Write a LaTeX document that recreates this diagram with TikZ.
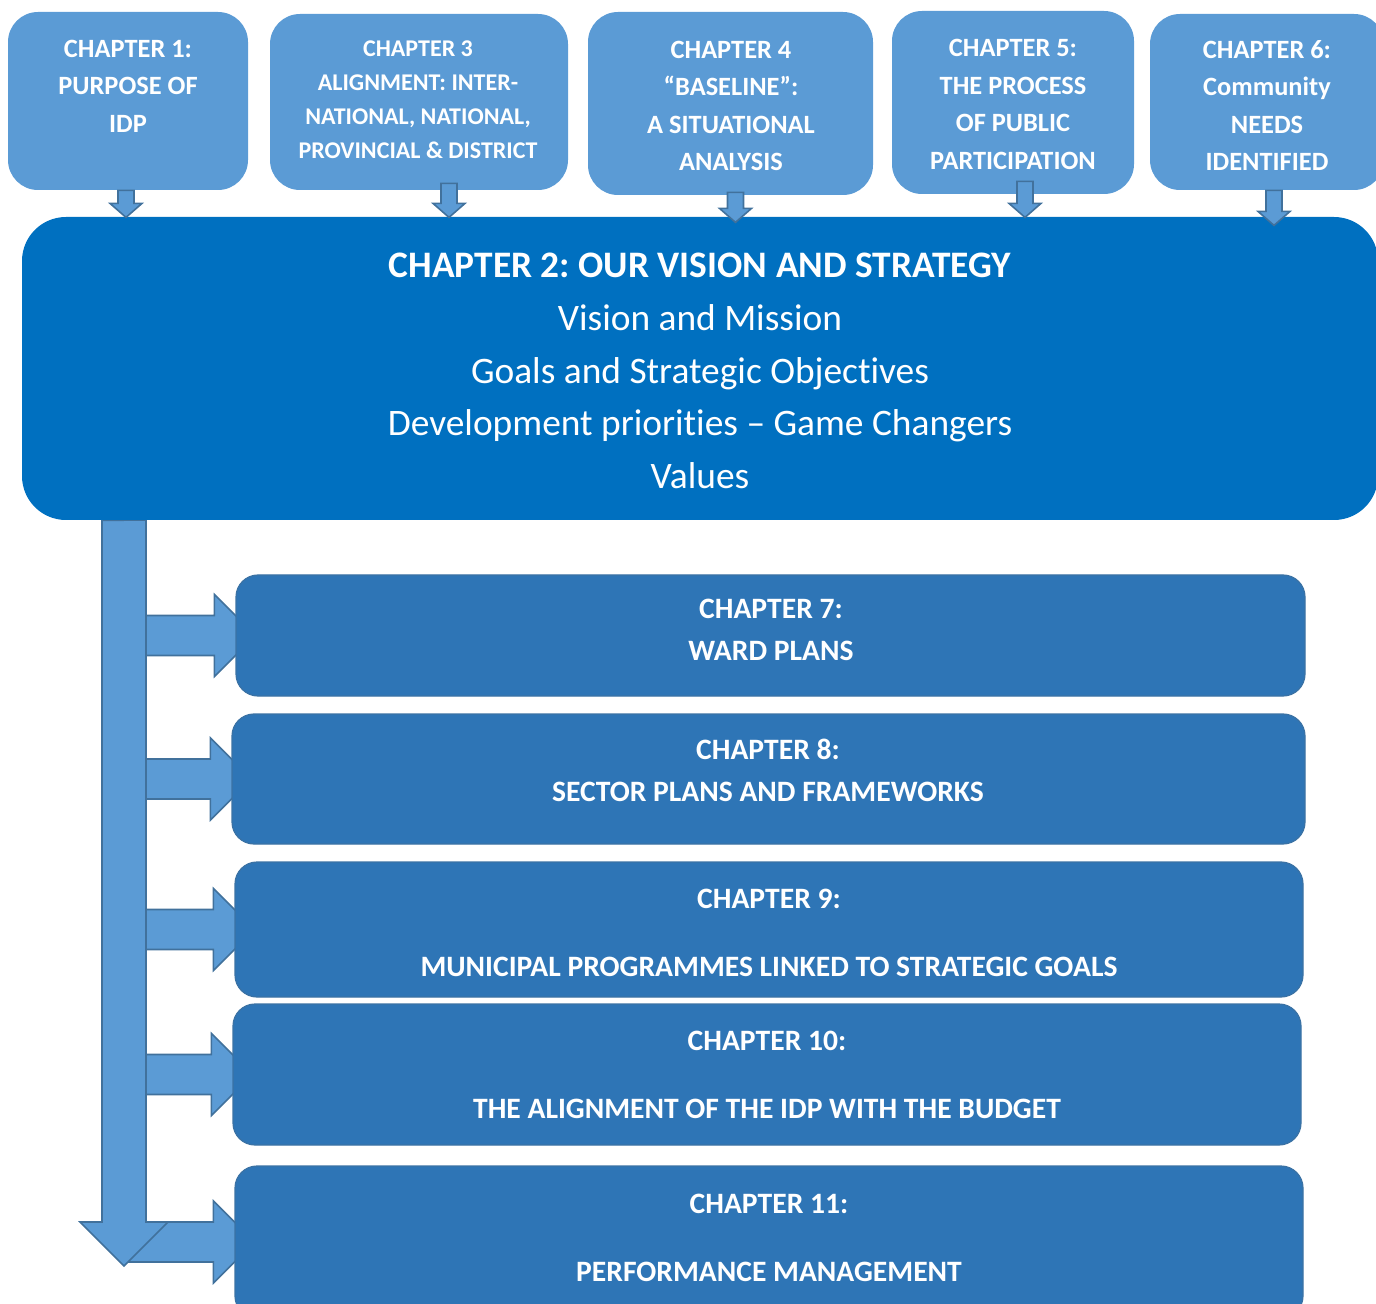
\documentclass[tikz,border=0pt]{standalone}
\usepackage{fontspec}
\setmainfont{Carlito}[Ligatures={TeX,NoCommon}]
\frenchspacing
\usetikzlibrary{fit,backgrounds}

\definecolor{lightblue}{HTML}{5B9BD5}
\definecolor{strongblue}{HTML}{0070C0}
\definecolor{midblue}{HTML}{2E75B6}
\definecolor{edgeblue}{HTML}{41719C}

\tikzset{
  topbox/.style={fill=lightblue, rounded corners=15pt, inner sep=0pt},
  toptext/.style={text=white, align=center, inner sep=0pt, font=\bfseries\fontsize{13.2}{18.8}\selectfont},
  visionbox/.style={fill=strongblue, rounded corners=22pt, inner sep=0pt},
  visiontext/.style={text=white, align=center, inner sep=0pt, font=\fontsize{18.7}{26.4}\selectfont},
  chapbox/.style={fill=midblue, draw=edgeblue!70!midblue, line width=0.6pt, rounded corners=11pt, inner sep=0pt},
  chaptext/.style={text=white, align=center, inner sep=0pt, font=\bfseries\fontsize{14.8}{21}\selectfont},
  blockarr/.style={fill=lightblue, draw=edgeblue, line width=0.8pt, line join=miter}
}

\begin{document}
\begin{tikzpicture}[x=0.5pt,y=-0.5pt]
    \useasboundingbox (0,0) rectangle (1376,1304);
    \clip (0,0) rectangle (1376,1304);

    % top row
    \node [topbox, fit={(8,12) (248,190)}] (c1) {};
    \node [topbox, fit={(270,14) (568,190)}] (c3) {};
    \node [topbox, fit={(588,12) (873,195)}] (c4) {};
    \node [topbox, fit={(892,11) (1134,194)}] (c5) {};
    \node [topbox, fit={(1150,14) (1384,190)}] (c6) {};
    \node [toptext] (t1) at (128,86) {CHAPTER 1:\\PURPOSE OF\\IDP};
    \node [toptext, font=\bfseries\fontsize{12}{17}\selectfont] (t3) at (418,100)
        {CHAPTER 3\\ALIGNMENT: INTER-\\NATIONAL, NATIONAL,\\PROVINCIAL \& DISTRICT};
    \node [toptext] (t4) at (731,106) {CHAPTER 4\\“BASELINE”:\\A SITUATIONAL\\ANALYSIS};
    \node [toptext] (t5) at (1013,104.5) {CHAPTER 5:\\THE PROCESS\\OF PUBLIC\\PARTICIPATION};
    \node [toptext] (t6) at (1267,105.5) {CHAPTER 6:\\Community\\NEEDS\\IDENTIFIED};

    % the vision box
    \node [visionbox, fit={(22,217) (1378,520)}] (c2) {};
    \node [visiontext] (t2) at (700,371)
        {\textbf{CHAPTER 2: OUR VISION AND STRATEGY}\\Vision and Mission\\Goals and Strategic Objectives\\
         Development priorities – Game Changers\\Values};

    % lower chapters
    \node [chapbox, fit={(236,575) (1305,696)}] (c7) {};
    \node [chapbox, fit={(232,714) (1305,844)}] (c8) {};
    \node [chapbox, fit={(235,862) (1303,997)}] (c9) {};
    \node [chapbox, fit={(233,1004) (1301,1145)}] (c10) {};
    \node [chapbox, fit={(235,1166) (1303,1318)}] (c11) {};
    \node [chaptext] (t7) at (771,630) {CHAPTER 7:\\WARD PLANS};
    \node [chaptext] (t8) at (768,770) {CHAPTER 8:\\SECTOR PLANS AND FRAMEWORKS};
    \node [chaptext] (t9) at (769,933) {CHAPTER 9:\\[13pt]MUNICIPAL PROGRAMMES LINKED TO STRATEGIC GOALS};
    \node [chaptext] (t10) at (767,1075) {CHAPTER 10:\\[13pt]THE ALIGNMENT OF THE IDP WITH THE BUDGET};
    \node [chaptext] (t11) at (769,1238) {CHAPTER 11:\\[13pt]PERFORMANCE MANAGEMENT};

    % small arrows into chapter 2
    \foreach \c/\dx/\dy/\sh in {c1/-2/0/13, c3/30/-7/20, c4/5/-3/16, c5/12/-13/22, c6/7/0/21}
        \draw [blockarr] (\c.south) ++(\dx-8,\dy) -- ++(16,0) -- ++(0,\sh) -- ++(8,0)
            -- ++(-16,14) -- ++(-16,-14) -- ++(8,0) -- cycle;

    \begin{scope}[on background layer]
    % arrows out to the lower chapters
    \foreach \c in {c7,c8,c9,c10,c11}
        \draw [blockarr] (\c.west) ++(20,0) -- ++(-41,-41) -- ++(0,21) -- ++(-90,0)
            -- ++(0,40) -- ++(90,0) -- ++(0,21) -- cycle;
    % long arrow down the side
    \draw [blockarr] (c2.south -| 102,0) -- (146,520) -- (146,1222) -- (168,1222)
        -- (124,1266) -- (80,1222) -- (102,1222) -- cycle;
    \end{scope}
\end{tikzpicture}
\end{document}
